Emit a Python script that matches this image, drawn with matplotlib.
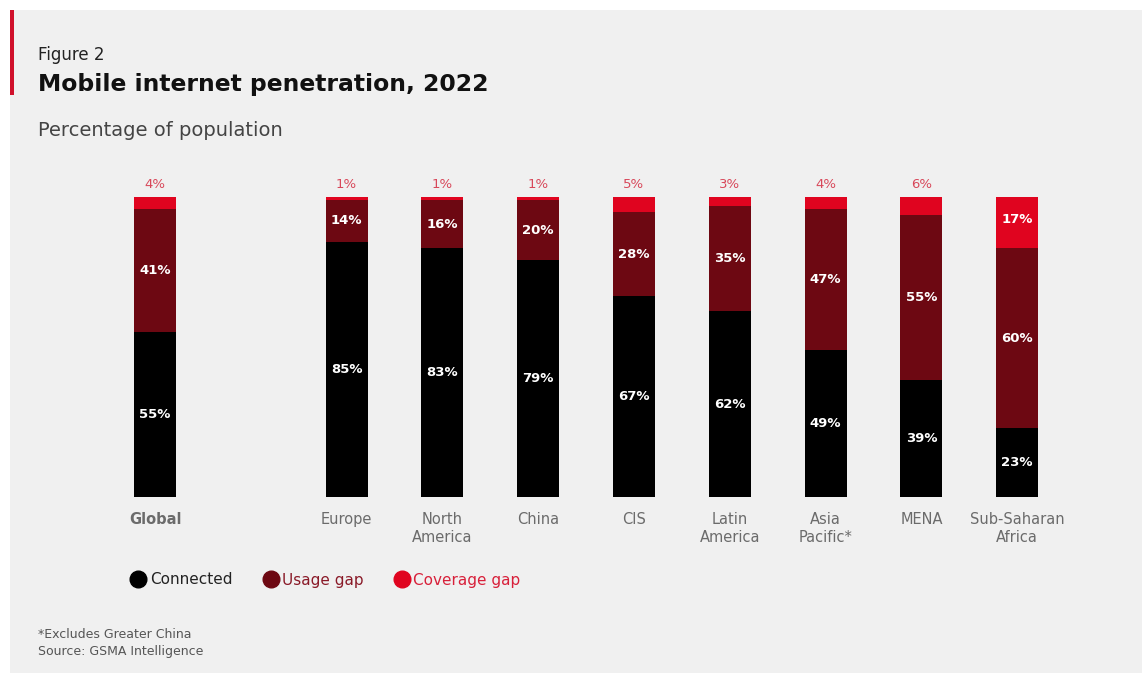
import matplotlib
matplotlib.use("Agg")
import matplotlib.pyplot as plt
from matplotlib.patches import Rectangle
from matplotlib.lines import Line2D

plt.rcParams['font.family'] = ['DejaVu Sans']

regions = ["Global", "Europe", "North\nAmerica", "China", "CIS", "Latin\nAmerica",
           "Asia\nPacific*", "MENA", "Sub-Saharan\nAfrica"]
positions = [0, 2, 3, 4, 5, 6, 7, 8, 9]
connected = [55, 85, 83, 79, 67, 62, 49, 39, 23]
usage_gap = [41, 14, 16, 20, 28, 35, 47, 55, 60]
coverage_gap = [4, 1, 1, 1, 5, 3, 4, 6, 17]

c_conn = "#000000"
c_usage = "#6d0812"
c_cov = "#e0041f"
c_label_top = "#d8485a"

W, H = 1142, 673
fig = plt.figure(figsize=(W / 100, H / 100), dpi=100, facecolor="white")

# background panel and red accent
fig.patches.append(Rectangle((10 / W, 0), 1 - 10 / W, 1 - 10 / H, transform=fig.transFigure,
                             facecolor="#f0f0f0", edgecolor="none", zorder=-10))
fig.patches.append(Rectangle((10 / W, 1 - 95 / H), 4 / W, 85 / H, transform=fig.transFigure,
                             facecolor="#d0102b", edgecolor="none", zorder=-5))

# axes: x centres at 155 + 95.8*pos px, y 0..100 maps to 497..197 px
step = 95.8
left_px = 155 - step
right_px = 155 + 10 * step
ax = fig.add_axes([left_px / W, (H - 497) / H, (right_px - left_px) / W, 300 / H])
ax.set_facecolor("none")
ax.set_xlim(-1, 10)
ax.set_ylim(0, 100)
for s in ax.spines.values():
    s.set_visible(False)
ax.set_yticks([])

bw = 0.44
bottoms2 = connected
bottoms3 = [a + b for a, b in zip(connected, usage_gap)]
ax.bar(positions, connected, width=bw, color=c_conn)
ax.bar(positions, usage_gap, width=bw, bottom=bottoms2, color=c_usage)
ax.bar(positions, coverage_gap, width=bw, bottom=bottoms3, color=c_cov)

for i, x in enumerate(positions):
    ax.text(x, connected[i] / 2, f"{connected[i]}%", ha="center", va="center",
            color="white", fontsize=9.5, fontweight="bold")
    ax.text(x, connected[i] + usage_gap[i] / 2, f"{usage_gap[i]}%", ha="center", va="center",
            color="white", fontsize=9.5, fontweight="bold")
    if coverage_gap[i] >= 10:
        ax.text(x, bottoms3[i] + coverage_gap[i] / 2 + 1, f"{coverage_gap[i]}%", ha="center",
                va="center", color="white", fontsize=9.5, fontweight="bold")
    else:
        ax.text(x, 104.3, f"{coverage_gap[i]}%", ha="center", va="center",
                color=c_label_top, fontsize=9.5)

ax.set_xticks(positions, regions)
ax.tick_params(axis="x", length=0, pad=11, labelsize=10.5, labelcolor="#6b6b6b")
ax.get_xticklabels()[0].set_fontweight("bold")

# titles
fig.text(38 / W, 1 - 55 / H, "Figure 2", fontsize=12, color="#222222", va="center")
fig.text(38 / W, 1 - 85 / H, "Mobile internet penetration, 2022", fontsize=16.9,
         fontweight="bold", color="#111111", va="center")
fig.text(38 / W, 1 - 131 / H, "Percentage of population", fontsize=14,
         color="#444444", va="center")

# legend
handles = [Line2D([], [], marker="o", linestyle="none", markersize=12, color=c)
           for c in (c_conn, c_usage, c_cov)]
leg = fig.legend(handles, ["Connected", "Usage gap", "Coverage gap"], ncol=3,
                 loc="center left", bbox_to_anchor=(117 / W, 1 - 580 / H), frameon=False,
                 fontsize=11, handletextpad=0.25, columnspacing=2.0, handlelength=1.0,
                 labelcolor=["#222222", "#8a1a28", "#d8203a"])

fig.text(38 / W, 1 - 634 / H, "*Excludes Greater China", fontsize=9, color="#555555", va="center")
fig.text(38 / W, 1 - 651 / H, "Source: GSMA Intelligence", fontsize=9, color="#555555", va="center")

fig.savefig("out.png", dpi=100, facecolor=fig.get_facecolor())
